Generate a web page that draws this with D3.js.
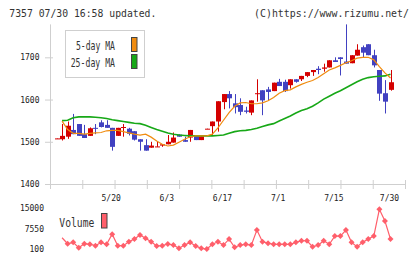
<!DOCTYPE html>
<html><head><meta charset="utf-8">
<script src="https://cdn.jsdelivr.net/npm/d3@7/dist/d3.min.js"></script>
<style>html,body{margin:0;padding:0;background:#fff;}svg{display:block;}</style>
</head><body>
<script>
const dates = ["5/2","5/7","5/8","5/9","5/12","5/13","5/14","5/15","5/16","5/19",
"5/20","5/21","5/22","5/23","5/26","5/27","5/28","5/29","5/30","6/2",
"6/3","6/4","6/5","6/6","6/9","6/10","6/11","6/12","6/13","6/16",
"6/17","6/18","6/19","6/20","6/23","6/24","6/25","6/26","6/27","6/30",
"7/1","7/2","7/3","7/4","7/7","7/8","7/9","7/10","7/11","7/14",
"7/15","7/16","7/17","7/18","7/22","7/23","7/24","7/25","7/28","7/29","7/30"];
const open  = [1507,1506,1512,1528,1542,1518,1514,1533,1546,1540,1533,1514,1534,1531,1525,1506,1492,1486,1488,1491,1494,1498,1517,1504,1510,1516,1504,1530,1537,1548,1594,1613,1591,1587,1574,1569,1614,1622,1624,1620,1642,1642,1634,1648,1648,1656,1665,1673,1673,1676,1693,1700,1690,1686,1704,1724,1731,1705,1670,1615,1623];
const high  = [1508,1542,1548,1566,1542,1540,1534,1542,1551,1551,1533,1533,1542,1533,1525,1506,1506,1500,1500,1494,1516,1522,1518,1512,1528,1516,1513,1531,1548,1596,1613,1620,1613,1603,1583,1598,1648,1622,1630,1640,1649,1647,1648,1648,1656,1665,1670,1679,1685,1693,1700,1700,1778,1705,1731,1728,1731,1718,1670,1646,1670];
const low   = [1507,1503,1507,1518,1514,1509,1514,1518,1534,1533,1479,1514,1512,1515,1503,1479,1479,1486,1488,1488,1494,1498,1512,1500,1500,1504,1504,1530,1516,1524,1577,1579,1567,1563,1567,1563,1595,1563,1597,1620,1632,1618,1626,1640,1644,1653,1656,1660,1666,1676,1689,1657,1685,1686,1704,1700,1705,1676,1597,1567,1621];
const close = [1508,1514,1538,1518,1514,1509,1532,1531,1535,1533,1488,1533,1535,1519,1505,1500,1479,1491,1489,1494,1500,1510,1512,1500,1528,1504,1513,1531,1548,1596,1613,1603,1582,1571,1571,1598,1615,1598,1618,1640,1632,1620,1648,1642,1656,1665,1670,1670,1676,1693,1689,1696,1685,1705,1718,1711,1705,1681,1614,1595,1641];
const ma5   = [null,1549,1529,1520,1520,1518,1520,1521,1522,1526,1527,1527,1524,1521,1518,1516,1518,1511,1502,1494,1490,1492,1499,1506,1512,1514,1514,1514,1518,1533,1551,1569,1584,1592,1593,1590,1590,1592,1597,1605,1615,1621,1623,1630,1636,1641,1645,1652,1661,1670,1675,1681,1687,1692,1698,1700,1700,1694,1678,1663,1651];
const ma25  = [null,1550,1551,1557,1559,1559,1559,1558,1557,1555,1552,1550,1548,1546,1544,1543,1539,1534,1529,1525,1521,1518,1516,1515,1514,1514,1514,1514,1514,1515,1516,1520,1524,1526,1527,1529,1532,1536,1540,1543,1549,1555,1561,1568,1574,1578,1584,1592,1601,1608,1615,1621,1628,1635,1642,1648,1652,1654,1655,1656,1660];
const volume = [null,4300,2100,2600,650,2100,1900,1400,2600,1900,5600,1400,1400,2800,3800,5300,4100,2800,1300,1400,2000,1600,430,1600,2600,1300,430,170,1900,2800,1600,3800,800,1600,1900,1600,7100,2800,2300,1900,1900,1900,1900,2600,3200,3200,1000,1600,3200,1900,4900,4900,7100,2600,1000,2600,3800,4900,14700,10400,3800];
const yTicks = [1400,1500,1600,1700];
const xLabels = ["5/20","6/3","6/17","7/1","7/15","7/30"];
const volTicks = [100,7550,15000];

const W = 420, H = 259;
const plotL = 50, plotR = 405, plotB = 184;
const RED = "#d40000", BLUE = "#4141c1", ORANGE = "#f08c10", GREEN = "#17a817", VOL = "#ff5f6b", AXIS = "#cfcfcf";
const MONO = "'DejaVu Sans Mono', monospace";

const svg = d3.select("body").append("svg").attr("width", W).attr("height", H);
svg.append("rect").attr("width", W).attr("height", H).attr("fill", "#fff");

const x = d3.scalePoint().domain(dates).range([plotL + 6.5, plotR - 14.5]);
const y = d3.scaleLinear().domain([1400, 1800]).range([plotB, 15.1]);
const yv = d3.scaleLinear().domain([100, 15000]).range([249.2, 208.5]);

// header
svg.append("text").attr("x", 9.3).attr("y", 16.7).attr("font-family", MONO).attr("font-size", 10)
  .attr("fill", "#333").attr("textLength", 147).attr("lengthAdjust", "spacingAndGlyphs").text("7357 07/30 16:58 updated.");
svg.append("text").attr("x", 254).attr("y", 16.7).attr("font-family", MONO).attr("font-size", 10)
  .attr("fill", "#333").attr("textLength", 155).attr("lengthAdjust", "spacingAndGlyphs").text("(C)https://www.rizumu.net/");

// y axis
const gy = svg.append("g").attr("transform", `translate(${plotL},0)`)
  .call(d3.axisLeft(y).tickValues(yTicks).tickSizeInner(5).tickSizeOuter(0).tickPadding(5.5).tickFormat(d3.format("d")));
gy.select(".domain").remove();
gy.selectAll(".tick line").attr("stroke", AXIS).attr("x1", 3);
gy.selectAll(".tick text").attr("font-family", MONO).attr("font-size", 8).attr("fill", "#222");
svg.append("line").attr("x1", plotL + 0.5).attr("x2", plotL + 0.5).attr("y1", y(1400)).attr("y2", y(d3.max(high)))
  .attr("stroke", AXIS);

// x axis
const tickScale = d3.scaleLinear().domain([0, 11]).range([plotL, plotR]);
const gx = svg.append("g").attr("transform", `translate(0,${plotB})`)
  .call(d3.axisBottom(tickScale).tickValues(d3.range(12)).tickSizeInner(5).tickSizeOuter(0).tickFormat(""));
gx.select(".domain").attr("stroke", AXIS);
gx.selectAll(".tick line").attr("stroke", AXIS).attr("y1", -4);
svg.append("g").selectAll("text").data(xLabels).join("text")
  .attr("x", d => x(d) - 1).attr("y", 200.5).attr("text-anchor", "middle")
  .attr("font-family", MONO).attr("font-size", 8).attr("fill", "#222").text(d => d);

// legend
svg.append("rect").attr("x", 65.5).attr("y", 30.5).attr("width", 79).attr("height", 47)
  .attr("fill", "#fff").attr("stroke", AXIS);
const leg = [{t: "5-day MA", c: ORANGE, yb: 50, w: 39, ry: 37.5}, {t: "25-day MA", c: GREEN, yb: 66.7, w: 44.3, ry: 54.5}];
leg.forEach(l => {
  svg.append("text").attr("x", 115).attr("y", l.yb).attr("text-anchor", "end").attr("font-family", MONO)
    .attr("font-size", 11.5).attr("fill", "#333").attr("textLength", l.w).attr("lengthAdjust", "spacingAndGlyphs").text(l.t);
  svg.append("rect").attr("x", 131.5).attr("y", l.ry).attr("width", 5.5).attr("height", 14)
    .attr("fill", l.c).attr("stroke", "#444");
});

// candles
const data = dates.map((d, i) => ({d, o: open[i], h: high[i], l: low[i], c: close[i]}));
const cg = svg.append("g");
cg.selectAll("line").data(data).join("line")
  .attr("x1", d => Math.round(x(d.d)) + 0.5).attr("x2", d => Math.round(x(d.d)) + 0.5)
  .attr("y1", d => y(d.h)).attr("y2", d => y(d.l))
  .attr("stroke", d => d.c >= d.o ? RED : BLUE).attr("stroke-width", 1);
cg.selectAll("rect").data(data).join("rect")
  .attr("x", d => Math.round(x(d.d)) - 2).attr("width", 5)
  .attr("y", d => y(Math.max(d.o, d.c)))
  .attr("height", d => Math.max(1, Math.abs(y(d.o) - y(d.c))))
  .attr("fill", d => d.c >= d.o ? RED : BLUE);

// moving averages
const maLine = arr => d3.line().defined(d => d != null).x((d, i) => x(dates[i])).y(d => y(d))(arr);
svg.append("path").attr("d", maLine(ma25)).attr("fill", "none").attr("stroke", GREEN).attr("stroke-width", 1.6);
svg.append("path").attr("d", maLine(ma5)).attr("fill", "none").attr("stroke", ORANGE).attr("stroke-width", 1.2);

// volume
svg.append("g").selectAll("text").data(volTicks).join("text")
  .attr("x", 44).attr("y", d => yv(d) + 2.8).attr("text-anchor", "end")
  .attr("font-family", MONO).attr("font-size", 8).attr("fill", "#222").text(d => d);
svg.append("text").attr("x", 59.3).attr("y", 226.7).attr("font-family", MONO).attr("font-size", 11.5)
  .attr("fill", "#333").attr("textLength", 35).attr("lengthAdjust", "spacingAndGlyphs").text("Volume");
svg.append("rect").attr("x", 101.5).attr("y", 213.5).attr("width", 5.5).attr("height", 14.5)
  .attr("fill", VOL).attr("stroke", "#444");
const vdata = volume.map((v, i) => ({d: dates[i], v})).filter(e => e.v != null);
svg.append("path").attr("d", d3.line().x(e => x(e.d)).y(e => yv(e.v))(vdata))
  .attr("fill", "none").attr("stroke", VOL).attr("stroke-width", 1.2);
svg.append("g").selectAll("path").data(vdata.slice(1)).join("path")
  .attr("d", d3.symbol(d3.symbolSquare, 18)())
  .attr("transform", e => `translate(${x(e.d)},${yv(e.v)}) rotate(45)`)
  .attr("fill", VOL);
</script>
</body></html>
